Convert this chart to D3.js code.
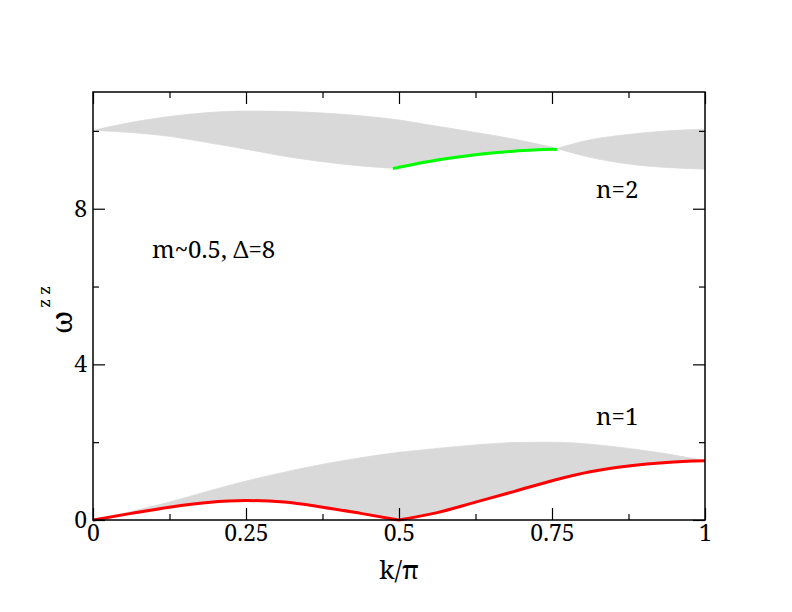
<!DOCTYPE html>
<html>
<head>
<meta charset="utf-8">
<script src="https://cdn.jsdelivr.net/npm/d3@7"></script>
<style>
  body { margin: 0; background: #fff; }
  svg { display: block; }
</style>
</head>
<body>
<div id="chart"></div>
<script>
(function() {
  'use strict';

  var serif = "'Noto Serif', 'DejaVu Serif'";

  // k/pi sampling for the n=1 continuum
  var k1 = [0, 0.0625, 0.125, 0.1875, 0.25, 0.3125, 0.375, 0.4375, 0.5,
            0.5625, 0.625, 0.6875, 0.75, 0.8125, 0.875, 0.9375, 1];
  var n1Lower = [0, 0.17, 0.33, 0.45, 0.50, 0.46, 0.33, 0.17, 0,
                 0.19, 0.46, 0.73, 1.01, 1.24, 1.39, 1.48, 1.52];
  var n1Upper = [0, 0.22, 0.46, 0.74, 1.00, 1.23, 1.43, 1.60, 1.74,
                 1.84, 1.93, 1.99, 2.00, 1.95, 1.84, 1.70, 1.52];

  // n=2 continuum, pinched near k/pi = 0.758
  var k2 = [0, 0.0625, 0.125, 0.1875, 0.25, 0.3125, 0.375, 0.4375, 0.5,
            0.5625, 0.625, 0.6875, 0.75, 0.758, 0.8125, 0.875, 0.9375, 1];
  var n2Upper = [10.01, 10.22, 10.37, 10.47, 10.51, 10.50, 10.46, 10.39, 10.28,
                 10.12, 9.96, 9.79, 9.58, 9.55, 9.77, 9.91, 10.00, 10.04];
  var n2Lower = [10.01, 9.96, 9.86, 9.70, 9.53, 9.35, 9.21, 9.10, 9.03,
                 9.24, 9.37, 9.47, 9.53, 9.55, 9.32, 9.15, 9.06, 9.02];

  // green bound state branch
  var kGreen = [0.49, 0.5625, 0.625, 0.6875, 0.75, 0.758];
  var green = [9.03, 9.25, 9.39, 9.48, 9.53, 9.52];

  var xMajor = [0, 0.25, 0.5, 0.75, 1];
  var xMinor = [0.125, 0.375, 0.625, 0.875];
  var xLabels = ["0", "0.25", "0.5", "0.75", "1"];
  var yMajor = [0, 4, 8];
  var yMinor = [2, 6, 10];

  var width = 792;
  var height = 612;
  var margin = { top: 92, right: 87, bottom: 92, left: 93 };
  var w = width - margin.left - margin.right;
  var h = height - margin.top - margin.bottom;

  var x = d3.scaleLinear().domain([0, 1]).range([0, w]);
  var y = d3.scaleLinear().domain([0, 11]).range([h, 0]);

  var svg = d3.select("#chart")
    .append("svg")
    .attr("width", width)
    .attr("height", height)
    .style("font-family", serif);

  var g = svg.append("g")
    .attr("transform", "translate(" + margin.left + "," + margin.top + ")");

  // pick points between two k values (split at the cusps)
  function seg(ks, lo, hi, from, to) {
    var out = [];
    ks.forEach(function (k, i) {
      if (k >= from - 1e-9 && k <= to + 1e-9) {
        out.push({ k: k, lo: lo[i], hi: hi ? hi[i] : null });
      }
    });
    return out;
  }

  var area = d3.area()
    .curve(d3.curveMonotoneX)
    .x(function (d) { return x(d.k); })
    .y0(function (d) { return y(d.lo); })
    .y1(function (d) { return y(d.hi); });

  var line = d3.line()
    .curve(d3.curveMonotoneX)
    .x(function (d) { return x(d.k); })
    .y(function (d) { return y(d.lo); });

  var bands = [
    seg(k1, n1Lower, n1Upper, 0, 0.5),
    seg(k1, n1Lower, n1Upper, 0.5, 1),
    seg(k2, n2Lower, n2Upper, 0, 0.5),
    seg(k2, n2Lower, n2Upper, 0.5, 0.758),
    seg(k2, n2Lower, n2Upper, 0.758, 1)
  ];

  g.selectAll("path.band")
    .data(bands)
    .enter()
    .append("path")
    .attr("class", "band")
    .attr("d", area)
    .attr("fill", "#d9d9d9")
    .attr("stroke", "#d9d9d9")
    .attr("stroke-width", 0.8);

  var redSegs = [seg(k1, n1Lower, null, 0, 0.5), seg(k1, n1Lower, null, 0.5, 1)];
  g.selectAll("path.red")
    .data(redSegs)
    .enter()
    .append("path")
    .attr("class", "red")
    .attr("d", line)
    .attr("fill", "none")
    .attr("stroke", "#ff0000")
    .attr("stroke-width", 3);

  g.append("path")
    .datum(seg(kGreen, green, null, 0, 1))
    .attr("d", line)
    .attr("fill", "none")
    .attr("stroke", "#00ff00")
    .attr("stroke-width", 3);

  // axes: inward ticks on all four sides
  function styleAxis(sel) {
    sel.attr("font-family", null).attr("font-size", 23);
    sel.select(".domain").remove();
    sel.selectAll("line").attr("stroke", "#000").attr("stroke-width", 1.2);
    sel.selectAll("text").attr("fill", "#000");
  }

  var bottom = g.append("g").attr("transform", "translate(0," + h + ")");
  bottom.call(d3.axisBottom(x).tickValues(xMajor).tickSize(-12).tickPadding(5)
    .tickFormat(function (d, i) { return xLabels[i]; }));
  bottom.append("g").call(d3.axisBottom(x).tickValues(xMinor).tickSize(-6).tickFormat(""))
    .call(styleAxis);
  styleAxis(bottom);

  var top = g.append("g");
  top.call(d3.axisTop(x).tickValues(xMajor).tickSize(-12).tickFormat(""));
  top.append("g").call(d3.axisTop(x).tickValues(xMinor).tickSize(-6).tickFormat(""))
    .call(styleAxis);
  styleAxis(top);

  var left = g.append("g");
  left.call(d3.axisLeft(y).tickValues(yMajor).tickSize(-12).tickPadding(6)
    .tickFormat(d3.format("d")));
  left.append("g").call(d3.axisLeft(y).tickValues(yMinor).tickSize(-6).tickFormat(""))
    .call(styleAxis);
  styleAxis(left);

  var right = g.append("g").attr("transform", "translate(" + w + ",0)");
  right.call(d3.axisRight(y).tickValues(yMajor).tickSize(-12).tickFormat(""));
  right.append("g").call(d3.axisRight(y).tickValues(yMinor).tickSize(-6).tickFormat(""))
    .call(styleAxis);
  styleAxis(right);

  g.append("rect")
    .attr("width", w)
    .attr("height", h)
    .attr("fill", "none")
    .attr("stroke", "#000")
    .attr("stroke-width", 1.5);

  // labels
  svg.append("text")
    .attr("x", margin.left + w / 2)
    .attr("y", 579)
    .attr("text-anchor", "middle")
    .attr("font-size", 26)
    .text("k/\u03c0");

  var ylab = svg.append("text")
    .attr("transform", "translate(72,334) rotate(-90)")
    .attr("font-size", 29);
  ylab.append("tspan").text("\u03c9");
  ylab.append("tspan")
    .attr("dy", -22)
    .attr("dx", 3)
    .attr("font-size", 17)
    .text("z z");

  svg.append("text")
    .attr("x", 152).attr("y", 258)
    .attr("font-size", 24)
    .text("m~0.5, \u0394=8");

  svg.append("text")
    .attr("x", 596).attr("y", 198)
    .attr("font-size", 24)
    .text("n=2");

  svg.append("text")
    .attr("x", 596).attr("y", 425)
    .attr("font-size", 24)
    .text("n=1");
})();
</script>
</body>
</html>
